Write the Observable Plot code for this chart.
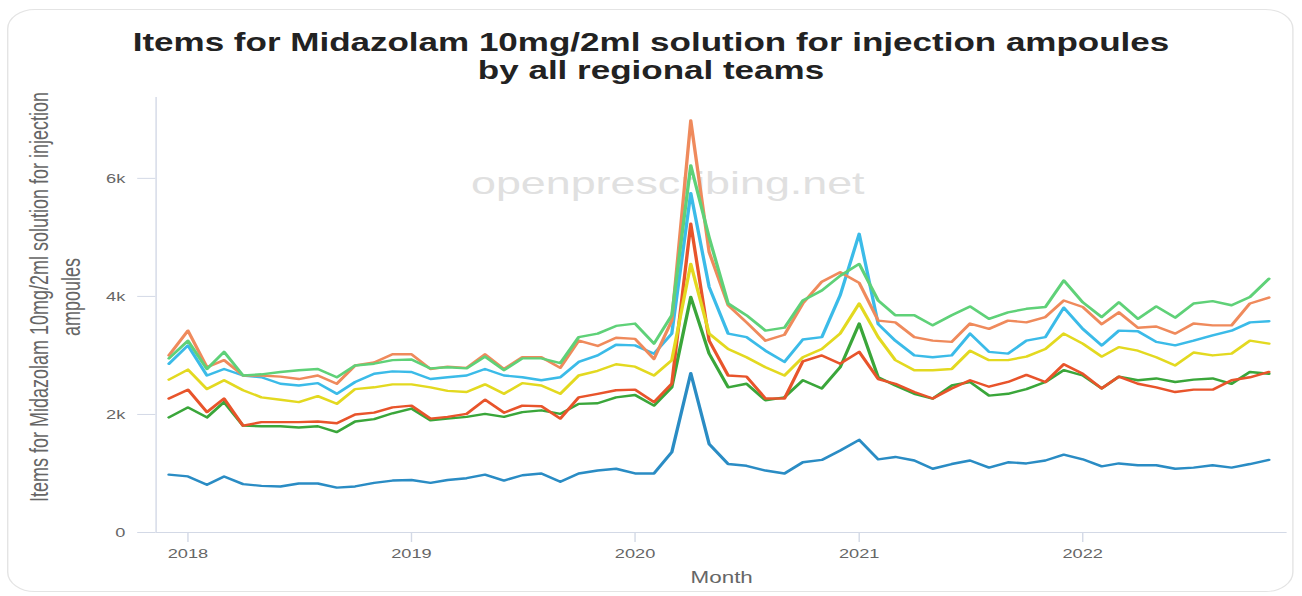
<!DOCTYPE html>
<html>
<head>
<meta charset="utf-8">
<script src="https://cdn.jsdelivr.net/npm/d3@7"></script>
<script src="https://cdn.jsdelivr.net/npm/@observablehq/plot@0.6"></script>
<style>
html,body{margin:0;padding:0;background:#fff;width:1302px;height:596px;overflow:hidden;}
#wrap{position:absolute;left:0;top:0;width:930px;height:596px;transform:scaleX(1.4);transform-origin:0 0;font-family:"Liberation Sans",Arial,sans-serif;}
#card{position:absolute;left:5px;top:9px;width:919px;height:583px;border:1.5px solid #e4e4e4;border-radius:20px;box-sizing:border-box;}
#title{position:absolute;left:0;top:28px;width:930px;text-align:center;font-weight:bold;font-size:25px;line-height:28px;color:#222;}
#watermark{position:absolute;left:227px;top:164px;width:500px;text-align:center;font-size:32px;line-height:38px;color:#e0e0e0;}
#ylabel{position:absolute;left:-180px;top:274px;width:440px;height:46px;text-align:center;font-size:18px;line-height:23px;color:#666;transform:rotate(-90deg);}
#chart{position:absolute;left:0;top:90px;}
</style>
</head>
<body>
<div id="wrap">
  <div id="card"></div>
  <div id="title">Items for Midazolam 10mg/2ml solution for injection ampoules<br>by all regional teams</div>
  <div id="watermark">openprescribing.net</div>
  <div id="ylabel">Items for Midazolam 10mg/2ml solution for injection<br>ampoules</div>
  <div id="chart"></div>
</div>
<script>
const months = [
  "2017-12",
  "2018-01","2018-02","2018-03","2018-04","2018-05","2018-06","2018-07","2018-08","2018-09","2018-10","2018-11","2018-12",
  "2019-01","2019-02","2019-03","2019-04","2019-05","2019-06","2019-07","2019-08","2019-09","2019-10","2019-11","2019-12",
  "2020-01","2020-02","2020-03","2020-04","2020-05","2020-06","2020-07","2020-08","2020-09","2020-10","2020-11","2020-12",
  "2021-01","2021-02","2021-03","2021-04","2021-05","2021-06","2021-07","2021-08","2021-09","2021-10","2021-11","2021-12",
  "2022-01","2022-02","2022-03","2022-04","2022-05","2022-06","2022-07","2022-08","2022-09","2022-10","2022-11"
];
const regions = ["London","North West","South East","East of England","North East and Yorkshire","South West","Midlands"];
const colors = ["#2a8cc4","#3aa63a","#e8542b","#e3d920","#3bbbe8","#ef8a5c","#5fd178"];

const london = [980,950,810,950,820,790,780,830,830,760, 780,840,880,890,840,890,920,980,880,970, 1000,860,1000,1050,1080,1000,1000,1360,2700,1500, 1160,1130,1050,1000,1190,1230,1390,1570,1240,1280, 1220,1080,1160,1220,1100,1190,1170,1220,1320,1240, 1120,1170,1140,1140,1080,1100,1140,1100,1160,1230];
const northWest = [1950,2120,1950,2210,1810,1800,1800,1780,1800,1700, 1880,1920,2020,2100,1900,1930,1960,2010,1960,2040, 2070,2010,2180,2190,2290,2330,2150,2460,3990,3030, 2460,2520,2240,2290,2580,2440,2800,3540,2630,2490, 2350,2270,2490,2550,2320,2350,2430,2550,2750,2660, 2440,2640,2580,2610,2550,2590,2610,2520,2720,2690];
const southEast = [2270,2420,2040,2270,1810,1870,1870,1870,1880,1850, 2000,2030,2120,2150,1930,1960,2010,2250,2030,2150, 2140,1930,2290,2350,2410,2420,2210,2520,5230,3250, 2660,2640,2270,2270,2900,3000,2860,3060,2600,2520, 2380,2270,2440,2580,2470,2550,2670,2550,2850,2690, 2440,2640,2520,2460,2380,2420,2420,2580,2630,2720];
const eastOfEngland = [2590,2760,2430,2580,2410,2290,2250,2210,2310,2180, 2430,2460,2510,2510,2460,2400,2380,2510,2350,2530, 2490,2350,2660,2740,2850,2810,2660,2920,4550,3370, 3110,2970,2800,2660,2970,3110,3370,3880,3310,2920, 2750,2750,2770,3080,2920,2920,2980,3110,3370,3200, 2980,3140,3080,2970,2830,3050,3000,3030,3250,3200];
const northEastYorkshire = [2860,3170,2660,2770,2660,2630,2520,2490,2530,2350, 2550,2690,2730,2720,2600,2630,2660,2770,2660,2630, 2580,2630,2890,3000,3180,3170,3030,3370,5750,4160, 3370,3310,3080,2890,3270,3310,4020,5060,3530,3250, 3000,2970,3000,3370,3060,3030,3250,3310,3810,3450, 3170,3420,3410,3230,3170,3250,3340,3420,3560,3580];
const southWest = [3000,3420,2800,2920,2660,2660,2640,2600,2660,2520, 2830,2880,3020,3020,2770,2810,2790,3020,2770,2970, 2970,2790,3250,3160,3300,3280,2940,3590,6980,4750, 3850,3560,3250,3350,3880,4250,4410,4230,3590,3560, 3310,3250,3230,3540,3450,3590,3560,3650,3930,3820, 3530,3730,3470,3490,3370,3540,3510,3510,3880,3980];
const midlands = [2950,3250,2770,3060,2660,2680,2720,2750,2770,2630, 2830,2860,2920,2930,2780,2800,2780,2980,2750,2950, 2950,2870,3310,3370,3500,3540,3200,3680,6220,5000, 3880,3680,3420,3470,3930,4100,4350,4550,3930,3680, 3680,3510,3680,3830,3620,3730,3790,3820,4270,3900, 3650,3900,3620,3830,3640,3880,3920,3850,3990,4300];

const yearLabels = ["2018","2019","2020","2021","2022"];
const yTicks = [0,2000,4000,6000];
const yTickLabels = ["0","2k","4k","6k"];

const series = [london,northWest,southEast,eastOfEngland,northEastYorkshire,southWest,midlands];
const parse = d3.utcParse("%Y-%m");
const rows = [];
series.forEach((vals,i)=>{
  vals.forEach((v,j)=>rows.push({region:regions[i], date:parse(months[j]), value:v}));
});

const xStart = new Date(Date.UTC(2017,10,10));
const xEnd = new Date(Date.UTC(2022,11,1));
const yearTicks = yearLabels.map(y=>d3.utcParse("%Y")(y));
const axisColor = "#d3d9e6";

const chart = Plot.plot({
  width:930, height:502,
  marginLeft:111, marginRight:11, marginTop:7, marginBottom:60,
  style:{fontFamily:'"Liberation Sans", Arial, sans-serif', fontSize:"13px", color:"#666", background:"transparent", overflow:"visible"},
  x:{type:"utc", domain:[xStart,xEnd]},
  y:{domain:[0,7370]},
  color:{domain:regions, range:colors},
  marks:[
    Plot.ruleY([0],{stroke:axisColor, strokeWidth:1}),
    Plot.ruleX([xStart],{stroke:axisColor, strokeWidth:1}),
    Plot.axisX({ticks:yearTicks, tickFormat:d3.utcFormat("%Y"), tickSize:10, tickPadding:6, stroke:axisColor, fill:"#666",
      label:"Month", labelAnchor:"center", labelArrow:"none", labelOffset:50}),
    Plot.axisY({ticks:yTicks, tickFormat:(d)=>yTickLabels[yTicks.indexOf(d)], tickSize:13, tickPadding:9, stroke:axisColor, fill:"#666", label:null}),
    Plot.line(rows,{x:"date", y:"value", z:"region", stroke:"region", strokeWidth:2.4, strokeLinejoin:"round"})
  ]
});
document.getElementById("chart").appendChild(chart);
chart.querySelectorAll('[aria-label="x-axis label"] text').forEach(t=>{t.style.fontSize="16px";});
</script>
</body>
</html>
